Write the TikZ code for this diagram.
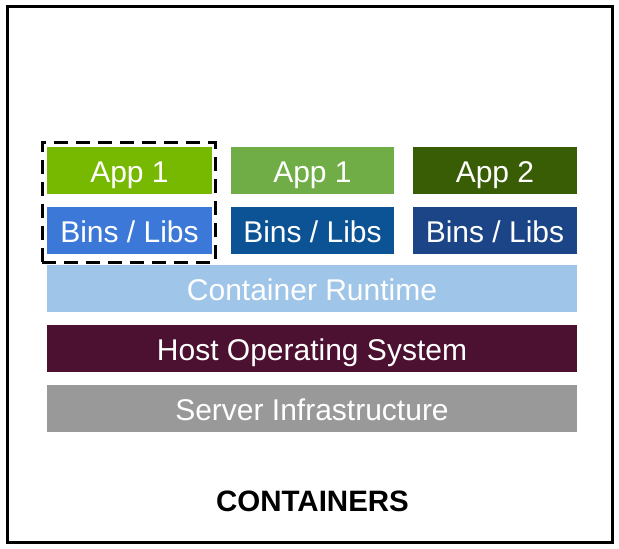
\documentclass[tikz,border=0pt]{standalone}
\usepackage{fontspec}
\setmainfont{Liberation Sans}
\definecolor{appa}{HTML}{76B900}
\definecolor{appb}{HTML}{70AD47}
\definecolor{appc}{HTML}{385D04}
\definecolor{binsa}{HTML}{3C78D8}
\definecolor{binsb}{HTML}{0B5394}
\definecolor{binsc}{HTML}{1C4587}
\definecolor{runtime}{HTML}{9FC5E8}
\definecolor{hostos}{HTML}{4C1130}
\definecolor{server}{HTML}{999999}
\tikzset{
  layer/.style={inner sep=0pt, minimum height=47pt, text=white,
    font=\fontsize{30}{30}\selectfont, text height=24pt, text depth=0pt},
  small/.style={layer, minimum width=165pt},
  wide/.style={layer, minimum width=530pt},
}
\begin{document}
\begin{tikzpicture}[x=1pt,y=-1pt]
\useasboundingbox (0,0) rectangle (619,549);
\node[draw, line width=3pt, minimum width=605pt, minimum height=536pt, inner sep=0pt] (frame) at (309.5,274) {};
\node[small, fill=appa] (app1a) at (129.5,170.5) {App 1};
\node[small, fill=appb, minimum width=163pt] (app1b) at (312.5,170.5) {App 1};
\node[small, fill=appc, minimum width=164pt] (app2) at (495,170.5) {App 2};
\node[small, fill=binsa] (binsa) at (129.5,230.5) {Bins / Libs};
\node[small, fill=binsb, minimum width=163pt] (binsb) at (312.5,230.5) {Bins / Libs};
\node[small, fill=binsc, minimum width=164pt] (binsc) at (495,230.5) {Bins / Libs};
\node[wide, fill=runtime] (runtime) at (312,288.5) {Container Runtime};
\node[wide, fill=hostos] (host) at (312,348.5) {Host Operating System};
\node[wide, fill=server] (server) at (312,408.5) {Server Infrastructure};
\node[draw, line width=3pt, dash pattern=on 14pt off 8pt, minimum width=173pt, minimum height=120pt, inner sep=0pt] (sel) at (128.5,202) {};
\node[font=\fontsize{29.5}{30}\selectfont\bfseries, text height=21.5pt, text depth=0pt, inner sep=0pt] (title) at (312.5,501) {CONTAINERS};
\end{tikzpicture}
\end{document}
